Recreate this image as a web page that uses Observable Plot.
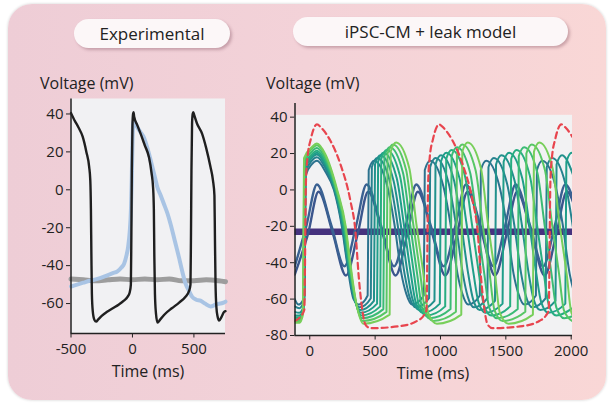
<!DOCTYPE html>
<html><head><meta charset="utf-8">
<script src="https://cdn.jsdelivr.net/npm/d3@7"></script>
<script src="https://cdn.jsdelivr.net/npm/@observablehq/plot@0.6"></script>
<style>
html,body{margin:0;padding:0;background:#fff;}
#page{position:relative;width:613px;height:407px;overflow:hidden;font-family:"Open Sans",sans-serif;color:#222;}
#panel{position:absolute;left:8px;top:4px;width:598px;height:396px;border-radius:24px;
  background:linear-gradient(90deg,#eecdd6 0%,#f3d2d8 50%,#f9d7d6 100%);box-shadow:0 0 3px rgba(0,0,0,0.2);}
.pill{position:absolute;height:29px;border-radius:15px;background:#fcf7f8;box-shadow:2px 2px 3px rgba(120,70,85,0.35);
  display:flex;align-items:center;justify-content:center;font-size:17px;color:#222;white-space:nowrap;}
.lab{position:absolute;font-size:16px;line-height:20px;color:#222;white-space:nowrap;}
.ctr{transform:translateX(-50%);}
svg.pl{position:absolute;left:0;top:0;}
</style></head><body>
<div id="page">
  <div id="panel"></div>
  <div class="pill" style="left:74px;top:19px;width:156px;">Experimental</div>
  <div class="pill" style="left:293px;top:17px;width:275px;">iPSC-CM + leak model</div>
  <div class="lab" style="left:40px;top:73px;">Voltage (mV)</div>
  <div class="lab" style="left:266px;top:73px;">Voltage (mV)</div>
  <div class="lab ctr" style="left:148px;top:361px;">Time (ms)</div>
  <div class="lab ctr" style="left:433px;top:363px;">Time (ms)</div>
</div>
<script>
// ---------- Experimental panel data ----------
const expXTicks = [-500, 0, 500];
const expYTicks = [40, 20, 0, -20, -40, -60];
const expXDomain = [-500, 757];
const expYDomain = [-75.8, 47.9];

const expBlack = [[-500,40.5],[-490,39],[-470,36.5],[-440,33],[-405,28],[-375,20],[-352,12],[-343,5],[-338,-10],[-334,-35],[-330,-55],[-323,-64],[-310,-68.5],[-295,-69.5],[-280,-68.5],[-250,-66.5],[-210,-64.5],[-160,-62.5],[-110,-60.5],[-70,-58.5],[-40,-56.5],[-22,-54],[-13,-50],[-9,-25],[-5,10],[0,34],[5,40],[9,41],[14,38.5],[40,34],[67,29.5],[100,23.5],[135,17],[155,9],[168,1],[174,-10],[178,-35],[183,-55],[191,-65],[204,-70],[225,-68.5],[265,-65.5],[320,-62.5],[380,-59.5],[430,-56.5],[460,-53.5],[472,-50],[476,-25],[480,10],[485,35],[490,40],[495,41],[502,39.5],[525,35],[567,29.5],[600,22],[635,12],[655,5],[667,-3],[671,-25],[676,-50],[683,-62],[693,-67],[705,-69],[725,-67],[745,-64.5],[757,-64]];

const expBlue = [[-500,-51],[-450,-50],[-400,-49],[-350,-48],[-284,-47],[-220,-45.5],[-160,-44],[-122,-43],[-90,-41],[-68,-39],[-50,-35],[-35,-30],[-22,-22],[-12,-10],[-6,5],[0,25],[5,34],[10,36.5],[20,35.5],[40,33],[65,30.5],[94,27.5],[130,20],[162,12],[185,6],[202,1.5],[230,-3],[256,-7.5],[285,-12.5],[310,-18],[345,-27],[378,-35.5],[405,-43],[432,-49.5],[458,-53],[486,-56.5],[520,-58],[553,-58.5],[590,-60],[635,-61.5],[680,-60.5],[742,-59.5],[757,-59]];

const expGray = [[-500,-47],[-400,-47.5],[-300,-48],[-200,-47.5],[-100,-47],[0,-47.5],[100,-47],[200,-47.5],[300,-47],[400,-48],[500,-48],[600,-47.5],[700,-48],[757,-48.5]];

// ---------- Model panel data ----------
const modelXTicks = [0, 500, 1000, 1500, 2000];
const modelYTicks = [40, 20, 0, -20, -40, -60, -80];
const modelXDomain = [-113, 2010];
const modelYDomain = [-80, 47.5];

const modelFlat = [[-113,-23],[2010,-23]];

const modelBlueA = [[-115,-42],[-25,-19.5],[55,3],[165,-19.5],[265,-42],[355,-19.5],[435,3],[545,-19.5],[645,-42],[735,-19.5],[815,3],[925,-19.5],[1025,-42],[1115,-19.5],[1195,3],[1305,-19.5],[1405,-42],[1495,-19.5],[1575,3],[1685,-19.5],[1785,-42],[1875,-19.5],[1955,3],[2065,-19.5]];
const modelBlueB = [[-115,-46.5],[-13,-24],[67,-1],[177,-24],[277,-47],[367,-24],[447,-1],[557,-24],[657,-47],[747,-24],[827,-1],[937,-24],[1037,-47],[1127,-24],[1207,-1],[1317,-24],[1417,-47],[1507,-24],[1587,-1],[1697,-24],[1797,-47],[1887,-24],[1967,-1],[2077,-24]];

const model1 = [[-115,-60],[-86,-63],[-55,-61],[-40,-58],[-31,8],[15,14],[55,16],[120,10],[185,0],[245,-20],[285,-40],[335,-60],[375,-63],[443,-58],
[451,11],[493,16],[593,2],[648,-19],[701,-46],[738,-57],[783,-63],[872,-58],
[880,11],[922,16],[1022,2],[1077,-19],[1130,-46],[1167,-57],[1212,-63],[1301,-58],
[1309,11],[1351,16],[1451,2],[1506,-19],[1559,-46],[1596,-57],[1641,-63],[1730,-58],
[1738,11],[1780,16],[1880,2],[1935,-19],[1988,-46],[2025,-57]];
const model2 = [[-115,-64],[-80,-65],[-50,-62],[-41,-60],[-32,9.5],[15,16],[55,18],[120,12],[189,0],[249,-20],[289,-40],[341,-60],[380,-64.5],[467,-59.5],
[475,12.5],[517,17.5],[617,3.5],[672,-19],[725,-46],[762,-58.5],[810,-64.5],[913,-59.5],
[921,12.5],[963,17.5],[1063,3.5],[1118,-19],[1171,-46],[1208,-58.5],[1256,-64.5],[1359,-59.5],
[1367,12.5],[1409,17.5],[1509,3.5],[1564,-19],[1617,-46],[1654,-58.5],[1702,-64.5],[1805,-59.5],
[1813,12.5],[1855,17.5],[1955,3.5],[2010,-19],[2063,-46]];
const model3 = [[-115,-67],[-80,-67.5],[-52,-65],[-43,-62],[-34,11.5],[15,17.5],[55,19.5],[120,13.5],[192,0],[254,-20],[292,-40],[343,-60],[385,-66],[491,-61],
[499,14],[541,19],[641,5],[696,-19],[749,-46],[786,-60],[837,-66],[954,-61],
[962,14],[1004,19],[1104,5],[1159,-19],[1212,-46],[1249,-60],[1300,-66],[1417,-61],
[1425,14],[1467,19],[1567,5],[1622,-19],[1675,-46],[1712,-60],[1763,-66],[1880,-61],
[1888,14],[1930,19],[2030,5]];
const model4 = [[-115,-69],[-80,-69],[-54,-66.5],[-45,-63.5],[-36,12.5],[15,18.5],[55,20.5],[120,14.5],[196,0],[258,-20],[296,-40],[344,-60],[390,-67.5],[515,-62.5],
[523,15.5],[565,20.5],[665,6.5],[720,-19],[773,-46],[810,-61.5],[864,-67.5],[995,-62.5],
[1003,15.5],[1045,20.5],[1145,6.5],[1200,-19],[1253,-46],[1290,-61.5],[1344,-67.5],[1475,-62.5],
[1483,15.5],[1525,20.5],[1625,6.5],[1680,-19],[1733,-46],[1770,-61.5],[1824,-67.5],[1955,-62.5],
[1963,15.5],[2005,20.5],[2105,6.5]];
const model5 = [[-115,-70],[-80,-70],[-56,-67.5],[-47,-65],[-38,13.5],[15,19.5],[55,21.5],[120,15.5],[199,0],[262,-20],[299,-40],[346,-60],[395,-69],[539,-64],
[547,17],[589,22],[689,8],[744,-19],[797,-46],[834,-63],[891,-69],[1036,-64],
[1044,17],[1086,22],[1186,8],[1241,-19],[1294,-46],[1331,-63],[1388,-69],[1533,-64],
[1541,17],[1583,22],[1683,8],[1738,-19],[1791,-46],[1828,-63],[1885,-69],[2030,-64]];
const model6 = [[-115,-71],[-80,-71],[-58,-68.5],[-49,-66],[-40,15],[15,21],[55,23],[120,17],[203,0],[266,-20],[303,-40],[347,-60],[400,-70.5],[563,-65.5],
[571,18.5],[613,23.5],[713,9.5],[768,-19],[821,-46],[858,-64.5],[918,-70.5],[1077,-65.5],
[1085,18.5],[1127,23.5],[1227,9.5],[1282,-19],[1335,-46],[1372,-64.5],[1432,-70.5],[1591,-65.5],
[1599,18.5],[1641,23.5],[1741,9.5],[1796,-19],[1849,-46],[1886,-64.5],[1946,-70.5],[2105,-65.5]];
const model7 = [[-115,-72],[-80,-72],[-60,-69.5],[-51,-67],[-42,16.5],[15,22.5],[55,24.5],[120,18.5],[206,0],[271,-20],[306,-40],[349,-60],[405,-72],[587,-67],
[595,20],[637,25],[737,11],[792,-19],[845,-46],[882,-66],[945,-72],[1118,-67],
[1126,20],[1168,25],[1268,11],[1323,-19],[1376,-46],[1413,-66],[1476,-72],[1649,-67],
[1657,20],[1699,25],[1799,11],[1854,-19],[1907,-46],[1944,-66],[2007,-72]];
const model8 = [[-115,-73],[-80,-73],[-62,-71],[-53,-68.5],[-44,17.5],[15,23.5],[55,25.5],[120,19.5],[210,0],[275,-20],[310,-40],[350,-60],[410,-73.5],[611,-68.5],
[619,21],[661,26],[761,12],[816,-19],[869,-46],[906,-67.5],[973,-73.5],[1159,-68.5],
[1167,21],[1209,26],[1309,12],[1364,-19],[1417,-46],[1454,-67.5],[1521,-73.5],[1707,-68.5],
[1715,21],[1757,26],[1857,12],[1912,-19],[1965,-46],[2002,-67.5],[2069,-73.5]];

const modelRed = [[-115,-72],[-70,-69.5],[-42,-66],[-29,5],[-17,18],[8,28],[55,36],[90,34],[158,27],[235,14],[311,-6],[349,-22.5],[375,-48],[400,-65],[426,-74],[464,-76],[694,-74.8],[821,-72],[872,-69],[893,-66],
[906,5],[918,18],[943,28],[990,36],[1025,34],[1093,27],[1170,14],[1246,-6],[1284,-22.5],[1310,-48],[1335,-65],[1361,-74],[1399,-76],[1629,-74.8],[1756,-72],[1807,-69],[1828,-66],
[1841,5],[1853,18],[1878,28],[1925,36],[1960,34],[2028,27]];

// ---------- styles ----------
const blueTraces = [modelBlueB, modelBlueA];
const blueColors = ["#3b568d", "#3a6192"];
const greenTraces = [model1, model2, model3, model4, model5, model6, model7, model8];
const greenColors = ["#2c728e", "#26828e", "#21918c", "#1f9e89", "#27ad81", "#3bbb75", "#58c765", "#78cf5a"];

const fmt = d => String(d);
const W = 613, H = 407;
const baseStyle = {background: "transparent", fontFamily: '"Open Sans", sans-serif', fontSize: "15px", color: "#222", overflow: "visible"};
const X = d => d[0], Y = d => d[1];

const leftPlot = Plot.plot({
  width: W, height: H,
  marginLeft: 70.5, marginRight: 388, marginTop: 98.5, marginBottom: 74,
  style: baseStyle,
  x: {domain: expXDomain, ticks: expXTicks, tickFormat: fmt, tickSize: 4.5, tickPadding: 5, label: null},
  y: {domain: expYDomain, ticks: expYTicks, tickFormat: fmt, tickSize: 4.5, tickPadding: 3, label: null},
  marks: [
    Plot.rect([expXDomain], {x1: () => expXDomain[0], x2: () => expXDomain[1], y1: () => expYDomain[0], y2: () => expYDomain[1], fill: "#f1f1f3"}),
    Plot.line(expGray, {x: X, y: Y, stroke: "#9d9d9d", strokeWidth: 5, curve: "monotone-x"}),
    Plot.line(expBlue, {x: X, y: Y, stroke: "#a9c4e4", strokeWidth: 4, curve: "monotone-x", strokeLinejoin: "round"}),
    Plot.line(expBlack, {x: X, y: Y, stroke: "#1f1f1f", strokeWidth: 2.4, curve: "monotone-x", strokeLinejoin: "round"}),
    Plot.ruleX([expXDomain[0]], {stroke: "#222", strokeWidth: 1.5}),
    Plot.ruleY([expYDomain[0]], {stroke: "#222", strokeWidth: 1.5})
  ]
});

const modelBgTop = 41;
const rightMarks = [
  Plot.rect([modelXDomain], {x1: () => modelXDomain[0], x2: () => modelXDomain[1], y1: () => modelYDomain[0], y2: () => modelBgTop, fill: "#f2f2f3"}),
  Plot.line(modelFlat, {x: X, y: Y, stroke: "#46327e", strokeWidth: 6.5, clip: true})
];
blueTraces.forEach((tr, i) => rightMarks.push(Plot.line(tr, {x: X, y: Y, stroke: blueColors[i], strokeWidth: 2.4, curve: "monotone-x", clip: true})));
greenTraces.forEach((tr, i) => rightMarks.push(Plot.line(tr, {x: X, y: Y, stroke: greenColors[i], strokeWidth: 2, curve: "monotone-x", clip: true, strokeLinejoin: "round"})));
rightMarks.push(Plot.line(modelRed, {x: X, y: Y, stroke: "#e8454e", strokeWidth: 2.2, strokeDasharray: "6,4", curve: "monotone-x", clip: true}));
rightMarks.push(Plot.ruleX([modelXDomain[0]], {stroke: "#222", strokeWidth: 1.5}));
rightMarks.push(Plot.ruleY([modelYDomain[0]], {stroke: "#222", strokeWidth: 1.5}));

const rightPlot = Plot.plot({
  width: W, height: H,
  marginLeft: 294.5, marginRight: 41, marginTop: 103, marginBottom: 72,
  style: baseStyle,
  x: {domain: modelXDomain, ticks: modelXTicks, tickFormat: fmt, tickSize: 4.5, tickPadding: 5, label: null},
  y: {domain: modelYDomain, ticks: modelYTicks, tickFormat: fmt, tickSize: 4.5, tickPadding: 3, label: null},
  marks: rightMarks
});

const page = document.getElementById("page");
[leftPlot, rightPlot].forEach(p => { p.classList.add("pl"); page.appendChild(p); });
</script>
</body></html>
